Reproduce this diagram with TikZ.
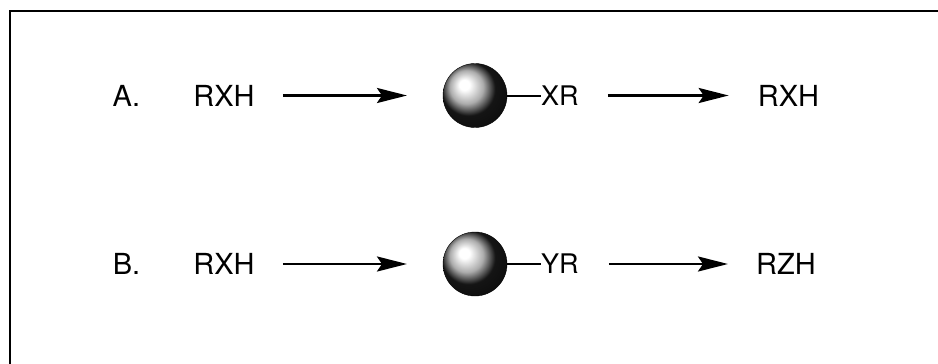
\documentclass[tikz,border=0pt]{standalone}
\usepackage{fontspec}
\setmainfont{TeX Gyre Heros}
\usetikzlibrary{arrows.meta}

% Shaded sphere with a bright spot up left
\pgfdeclareradialshading{sphere}{\pgfpoint{-9bp}{9bp}}{color(0bp)=(white); color(4bp)=(white); color(13bp)=(gray!65); color(21bp)=(black!92); color(50bp)=(black)}

\begin{document}
\begin{tikzpicture}[x = 1pt, y = -1pt,
	> = {Stealth[length = 30pt, width = 15pt, inset = 5pt]},
	label/.style = {inner sep = 0pt, font = \fontsize{29}{29}\selectfont},
	group/.style = {inner sep = 0pt, anchor = west, font = \fontsize{27}{27}\selectfont},
	ball/.style = {circle, minimum size = 64pt, inner sep = 0pt, outer sep = 0pt, draw = black, shading = sphere},
	arr/.style = {->, line width = 2.6pt},
	bond/.style = {line width = 2pt}]

	% Page size
	
	\useasboundingbox (0, 0) rectangle (938, 364);

	% Frame
	
	\draw [line width = 1.8pt] (10, 364) |- (938, 11);
	
	% Scheme A
	
	\node [label] (lblA) at (126.5, 95.5) {A.};
	\node [label] (startA) at (224, 95.5) {RXH};
	\node [ball] (ballA) at (475, 95.5) {};
	\node [group] (grpA) at (541, 95.5) {XR};
	\node [label] (endA) at (788.5, 95.5) {RXH};
	
	\draw [arr, shorten < = 28pt, shorten > = 36pt] (startA) -- (ballA);
	\draw [bond] (ballA.east) -- (grpA.west);
	\draw [arr, shorten < = 29pt, shorten > = 29pt] (grpA) -- (endA);
	
	% Scheme B
	
	\node [label] (lblB) at (126.5, 264) {B.};
	\node [label] (startB) at (224, 264) {RXH};
	\node [ball] (ballB) at (475, 264) {};
	\node [group] (grpB) at (541, 264) {YR};
	\node [label] (endB) at (786, 264) {RZH};
	
	\draw [arr, shorten < = 28pt, shorten > = 36pt] (startB) -- (ballB);
	\draw [bond] (ballB.east) -- (grpB.west);
	\draw [arr, shorten < = 30pt, shorten > = 28pt] (grpB) -- (endB);

\end{tikzpicture}
\end{document}
